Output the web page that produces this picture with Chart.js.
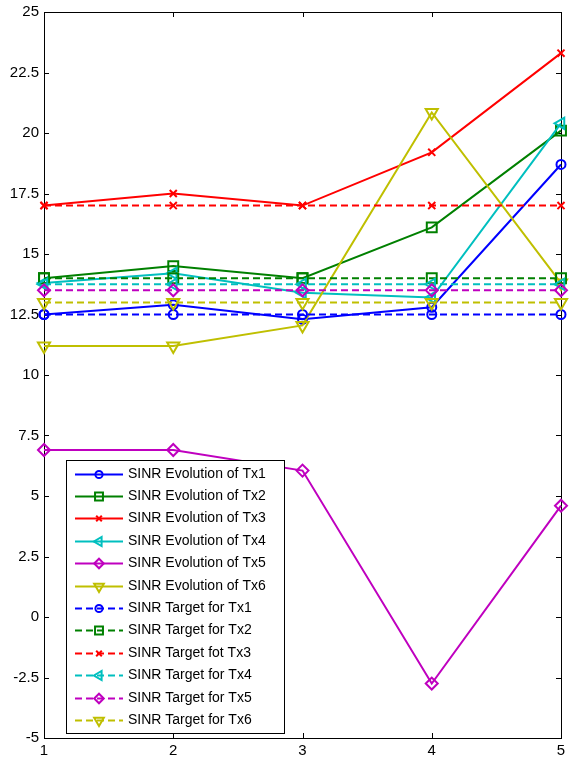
<!DOCTYPE html>
<html>
<head>
<meta charset="utf-8">
<script src="https://cdn.jsdelivr.net/npm/chart.js@4.4.1/dist/chart.umd.min.js"></script>
<style>
  html, body { margin: 0; padding: 0; background: #fff; }
  canvas { display: block; }
</style>
</head>
<body>
<canvas id="myChart" width="570" height="760"></canvas>
<script>
// values
const iterations = [1, 2, 3, 4, 5];

const evoTx1 = [12.5, 12.9, 12.3, 12.8, 18.7];
const evoTx2 = [14.0, 14.5, 14.0, 16.1, 20.1];
const evoTx3 = [17.0, 17.5, 17.0, 19.2, 23.3];
const evoTx4 = [13.8, 14.2, 13.4, 13.2, 20.4];
const evoTx5 = [6.9, 6.9, 6.05, -2.75, 4.6];
const evoTx6 = [11.2, 11.2, 12.05, 20.85, 13.8];

const targetTx1 = [12.5, 12.5, 12.5, 12.5, 12.5];
const targetTx2 = [14, 14, 14, 14, 14];
const targetTx3 = [17, 17, 17, 17, 17];
const targetTx4 = [13.75, 13.75, 13.75, 13.75, 13.75];
const targetTx5 = [13.5, 13.5, 13.5, 13.5, 13.5];
const targetTx6 = [13, 13, 13, 13, 13];

const evoLabels = ['SINR Evolution of Tx1', 'SINR Evolution of Tx2', 'SINR Evolution of Tx3',
  'SINR Evolution of Tx4', 'SINR Evolution of Tx5', 'SINR Evolution of Tx6'];
const targetLabels = ['SINR Target for Tx1', 'SINR Target for Tx2', 'SINR Target fot Tx3',
  'SINR Target for Tx4', 'SINR Target for Tx5', 'SINR Target for Tx6'];

const yTicks = [-5, -2.5, 0, 2.5, 5, 7.5, 10, 12.5, 15, 17.5, 20, 22.5, 25];

const colors = ['#0000ff', '#008000', '#ff0000', '#00bfbf', '#bf00bf', '#bfbf00'];
const markers = [
  { pointStyle: 'circle', radius: 4.5, rotation: 0 },
  { pointStyle: 'rect', radius: 7, rotation: 0 },
  { pointStyle: 'crossRot', radius: 5, rotation: 0 },
  { pointStyle: 'triangle', radius: 6.5, rotation: 270 },
  { pointStyle: 'rectRot', radius: 6, rotation: 0 },
  { pointStyle: 'triangle', radius: 7, rotation: 180 }
];

const FONT = '"Liberation Sans", Arial, sans-serif';

function makeSet(label, values, idx, dashed, order) {
  const m = markers[idx];
  return {
    label: label,
    data: values.map((v, i) => ({ x: iterations[i], y: v })),
    borderColor: colors[idx],
    backgroundColor: 'rgba(0,0,0,0)',
    borderWidth: 2,
    borderDash: dashed ? [7, 4] : [],
    pointStyle: m.pointStyle,
    pointRadius: m.radius,
    pointRotation: m.rotation,
    pointBorderColor: colors[idx],
    pointBackgroundColor: 'rgba(0,0,0,0)',
    pointBorderWidth: 2,
    tension: 0,
    fill: false,
    clip: false,
    order: order
  };
}

const evoData = [evoTx1, evoTx2, evoTx3, evoTx4, evoTx5, evoTx6];
const targetData = [targetTx1, targetTx2, targetTx3, targetTx4, targetTx5, targetTx6];

const datasets = [];
evoData.forEach((d, i) => datasets.push(makeSet(evoLabels[i], d, i, false, 20 - i)));
targetData.forEach((d, i) => datasets.push(makeSet(targetLabels[i], d, i, true, 10 - i)));

// white background, box and inward ticks like the original figure
const frame = {
  id: 'frame',
  beforeDraw(chart) {
    const c = chart.ctx;
    c.save();
    c.fillStyle = '#fff';
    c.fillRect(0, 0, chart.width, chart.height);
    c.restore();
  },
  beforeDatasetsDraw(chart) {
    const c = chart.ctx;
    const a = chart.chartArea;
    const xs = chart.scales.x, ys = chart.scales.y;
    c.save();
    c.strokeStyle = '#000';
    c.lineWidth = 1;
    c.beginPath();
    iterations.forEach(v => {
      const px = Math.round(xs.getPixelForValue(v)) + 0.5;
      c.moveTo(px, a.bottom); c.lineTo(px, a.bottom - 5);
      c.moveTo(px, a.top); c.lineTo(px, a.top + 5);
    });
    yTicks.forEach(v => {
      const py = Math.round(ys.getPixelForValue(v)) + 0.5;
      c.moveTo(a.left, py); c.lineTo(a.left + 5, py);
      c.moveTo(a.right, py); c.lineTo(a.right - 5, py);
    });
    c.stroke();
    c.strokeRect(Math.round(a.left) + 0.5, Math.round(a.top) + 0.5,
      Math.round(a.right - a.left), Math.round(a.bottom - a.top));
    c.restore();
  },
  afterDraw(chart) {
    const c = chart.ctx;
    c.save();
    c.strokeStyle = '#000';
    c.lineWidth = 1;
    // legend box inside the axes
    const lx = 66, ly = 460, lw = 218, lh = 273;
    c.fillStyle = '#fff';
    c.fillRect(lx, ly, lw, lh);
    c.strokeRect(lx + 0.5, ly + 0.5, lw, lh);
    c.font = '14px ' + FONT;
    c.textBaseline = 'middle';
    chart.data.datasets.forEach((ds, i) => {
      const y = Math.round(473.5 + i * 22.4) + 0.5;
      c.save();
      c.strokeStyle = ds.borderColor;
      c.lineWidth = 2;
      c.setLineDash(ds.borderDash);
      c.beginPath();
      c.moveTo(75, y); c.lineTo(123, y);
      c.stroke();
      c.setLineDash([]);
      c.fillStyle = 'rgba(0,0,0,0)';
      Chart.helpers.drawPoint(c, {
        pointStyle: ds.pointStyle,
        radius: ds.pointRadius * 0.8,
        rotation: ds.pointRotation,
        borderWidth: 2
      }, 99, y);
      c.restore();
      c.fillStyle = '#000';
      c.fillText(ds.label, 128, y);
    });
    c.restore();
  }
};

const ctx = document.getElementById('myChart');
new Chart(ctx, {
  type: 'line',
  data: { datasets: datasets },
  options: {
    responsive: false,
    animation: false,
    layout: { padding: { top: 12, right: 6, left: 0, bottom: 0 } },
    plugins: { legend: { display: false }, tooltip: { enabled: false } },
    scales: {
      x: {
        type: 'linear',
        min: 1,
        max: 5,
        grid: { display: false, drawTicks: false },
        border: { display: false },
        ticks: {
          stepSize: 1,
          padding: 4,
          color: '#000',
          font: { family: FONT, size: 15 },
          maxRotation: 0
        },
        afterFit: s => { s.height = 22; s.paddingRight = 0; s.paddingLeft = 0; }
      },
      y: {
        type: 'linear',
        min: -5,
        max: 25,
        grid: { display: false, drawTicks: false },
        border: { display: false },
        afterBuildTicks: s => { s.ticks = yTicks.map(v => ({ value: v })); },
        ticks: {
          padding: 5,
          color: '#000',
          font: { family: FONT, size: 15 },
          callback: v => String(v)
        },
        afterFit: s => { s.width = 44; s.paddingTop = 0; s.paddingBottom = 0; }
      }
    }
  },
  plugins: [frame]
});
</script>
</body>
</html>
